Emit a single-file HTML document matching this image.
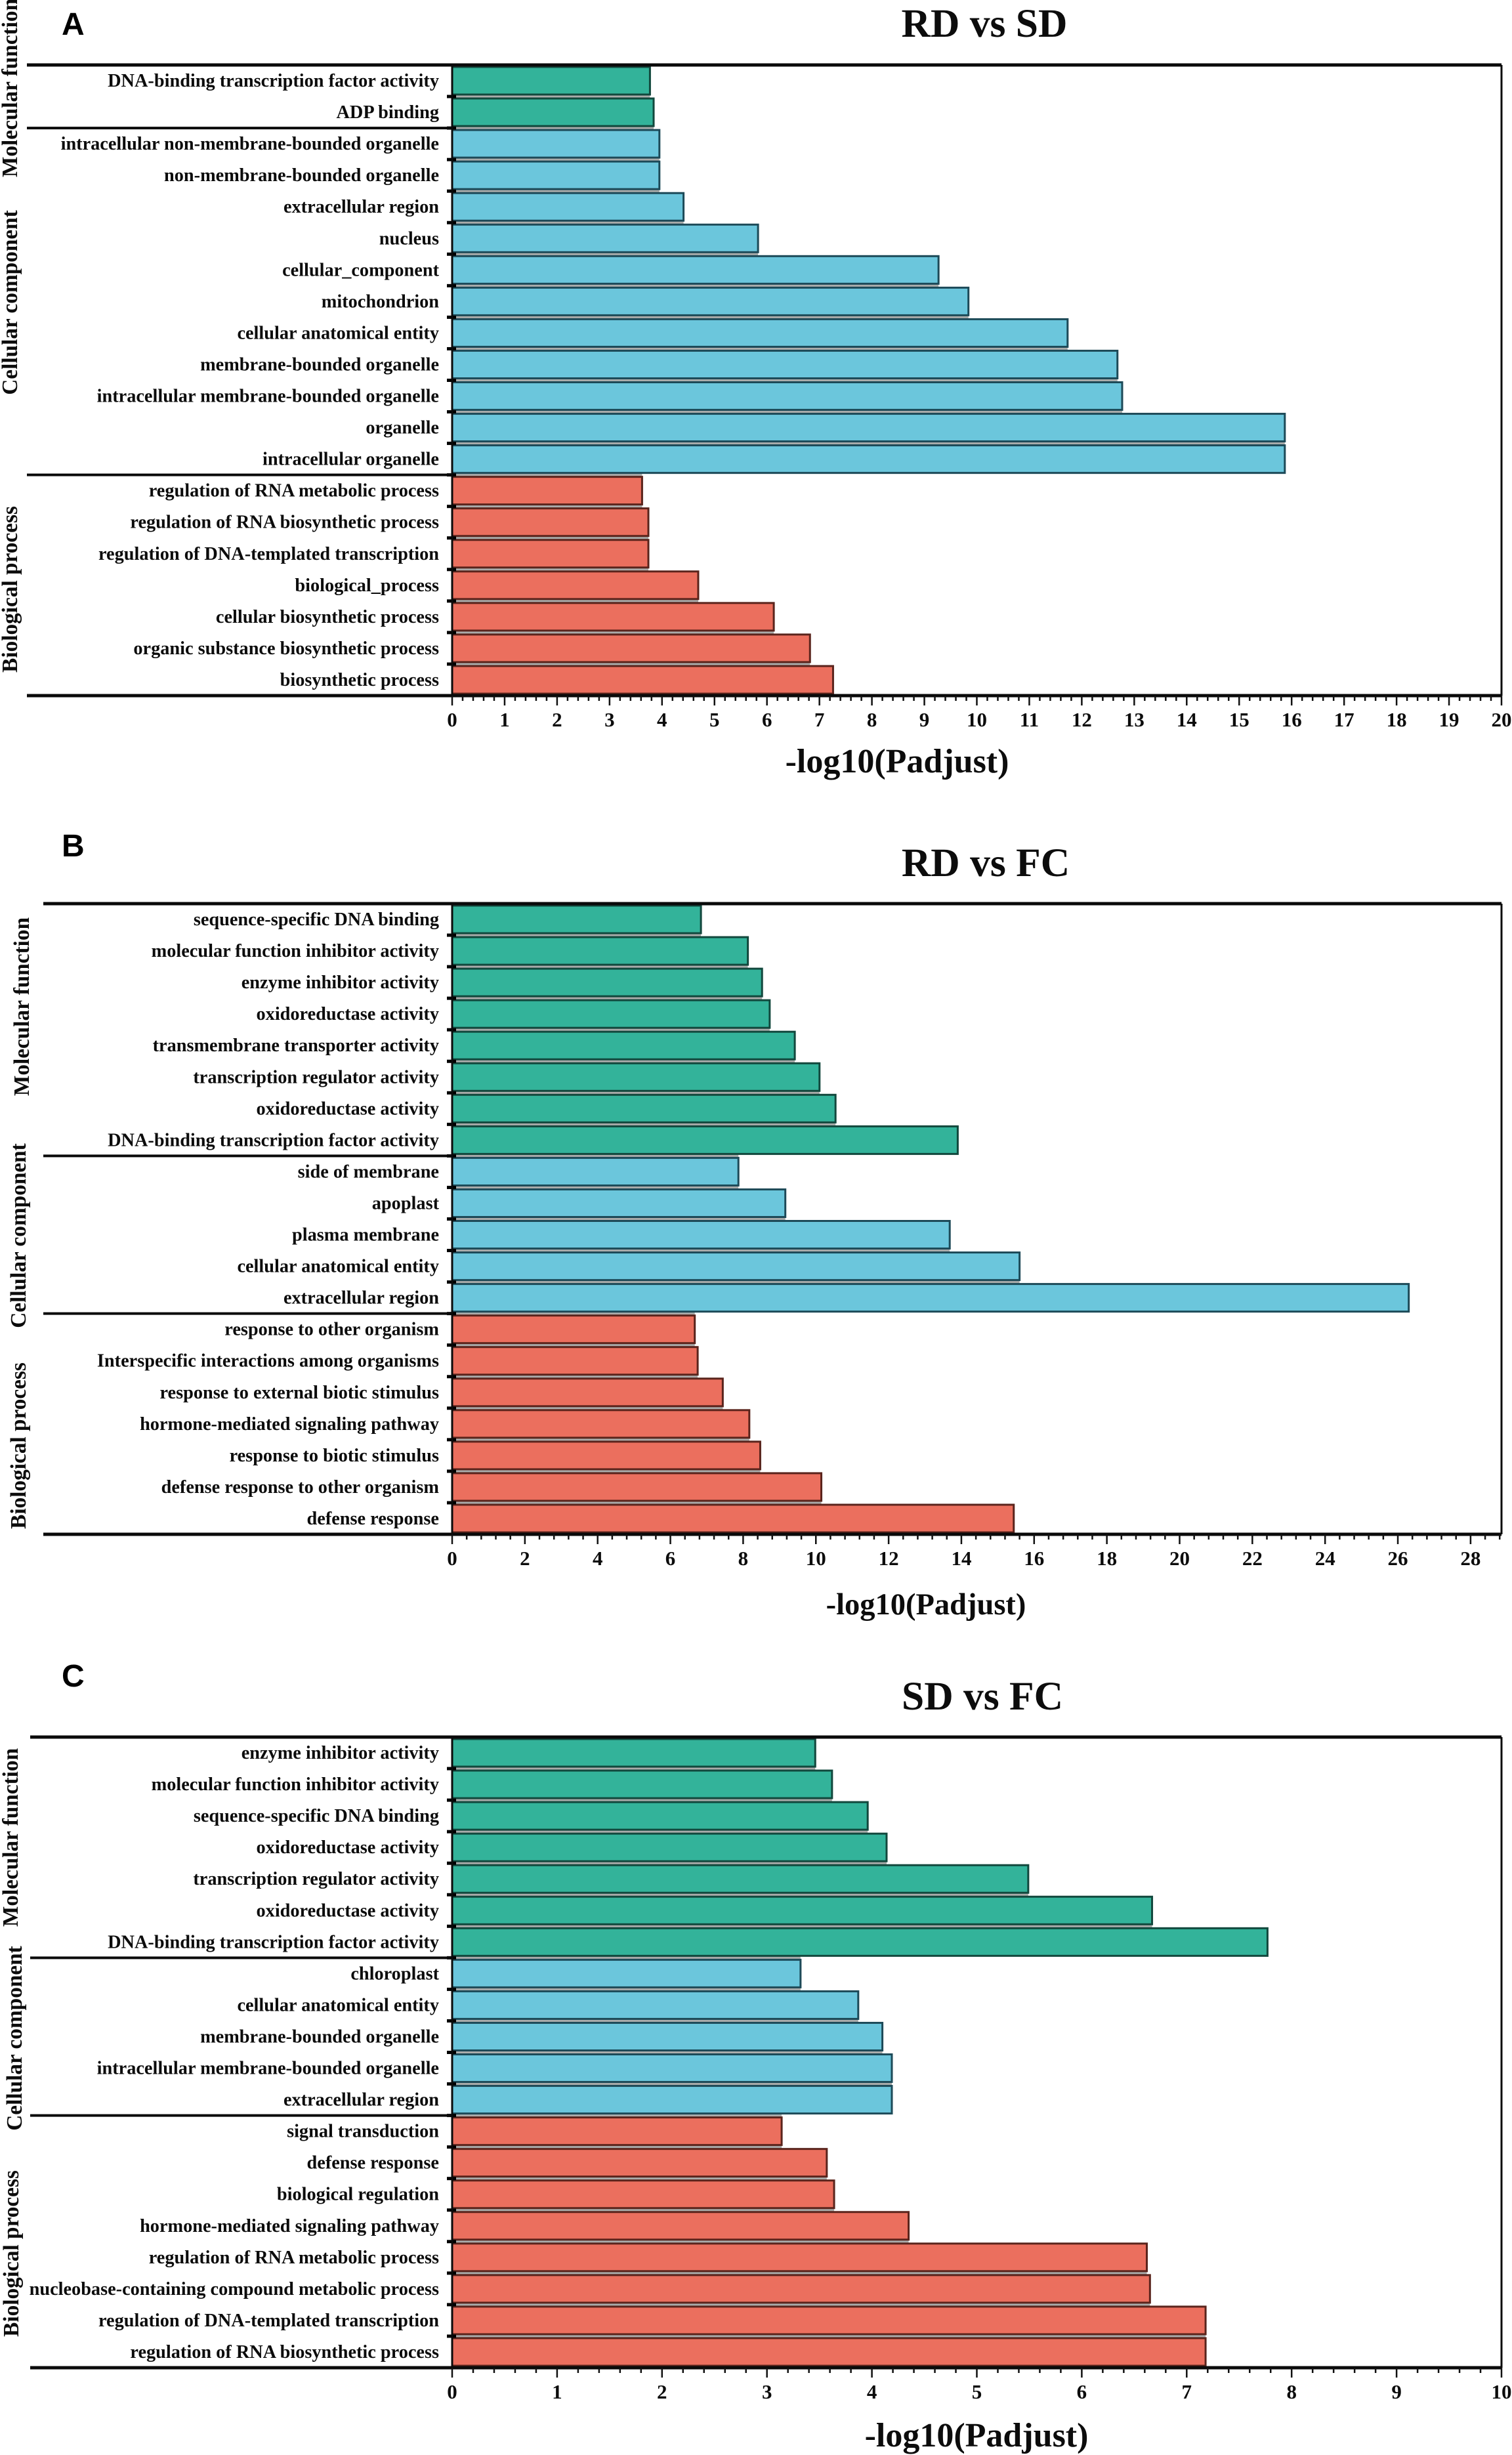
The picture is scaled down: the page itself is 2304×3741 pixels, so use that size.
<!DOCTYPE html>
<html lang="en">
<head>
<meta charset="utf-8">
<title>GO enrichment of RD, SD and FC comparisons</title>
<style>
html,body{margin:0;padding:0;background:#fff;}
svg{display:block;}
text{font-family:"Liberation Serif",serif;font-weight:bold;fill:#0c0c0c;}
.letter{font-family:"Liberation Sans",sans-serif;font-size:48px;fill:#000;}
</style>
</head>
<body>
<svg id="figure" xmlns="http://www.w3.org/2000/svg" width="2304" height="3741" viewBox="0 0 2304 3741"></svg>
<script>
// Panel A data
var panelACategories = ["DNA-binding transcription factor activity","ADP binding","intracellular non-membrane-bounded organelle","non-membrane-bounded organelle","extracellular region","nucleus","cellular_component","mitochondrion","cellular anatomical entity","membrane-bounded organelle","intracellular membrane-bounded organelle","organelle","intracellular organelle","regulation of RNA metabolic process","regulation of RNA biosynthetic process","regulation of DNA-templated transcription","biological_process","cellular biosynthetic process","organic substance biosynthetic process","biosynthetic process"];
var panelAValues = [3.77,3.84,3.95,3.95,4.41,5.83,9.27,9.84,11.73,12.68,12.77,15.87,15.87,3.62,3.74,3.74,4.69,6.13,6.82,7.26];
var panelAGroupCounts = [2,11,7];
var panelATicks = [0,1,2,3,4,5,6,7,8,9,10,11,12,13,14,15,16,17,18,19,20];

// Panel B data
var panelBCategories = ["sequence-specific DNA binding","molecular function inhibitor activity","enzyme inhibitor activity","oxidoreductase activity","transmembrane transporter activity","transcription regulator activity","oxidoreductase activity","DNA-binding transcription factor activity","side of membrane","apoplast","plasma membrane","cellular anatomical entity","extracellular region","response to other organism","Interspecific interactions among organisms","response to external biotic stimulus","hormone-mediated signaling pathway","response to biotic stimulus","defense response to other organism","defense response"];
var panelBValues = [6.84,8.13,8.52,8.73,9.42,10.1,10.54,13.9,7.87,9.16,13.68,15.6,26.3,6.67,6.75,7.44,8.17,8.47,10.15,15.44];
var panelBGroupCounts = [8,5,7];
var panelBTicks = [0,2,4,6,8,10,12,14,16,18,20,22,24,26,28];

// Panel C data
var panelCCategories = ["enzyme inhibitor activity","molecular function inhibitor activity","sequence-specific DNA binding","oxidoreductase activity","transcription regulator activity","oxidoreductase activity","DNA-binding transcription factor activity","chloroplast","cellular anatomical entity","membrane-bounded organelle","intracellular membrane-bounded organelle","extracellular region","signal transduction","defense response","biological regulation","hormone-mediated signaling pathway","regulation of RNA metabolic process","nucleobase-containing compound metabolic process","regulation of DNA-templated transcription","regulation of RNA biosynthetic process"];
var panelCValues = [3.46,3.62,3.96,4.14,5.49,6.67,7.77,3.32,3.87,4.10,4.19,4.19,3.14,3.57,3.64,4.35,6.62,6.65,7.18,7.18];
var panelCGroupCounts = [7,5,8];
var panelCTicks = [0,1,2,3,4,5,6,7,8,9,10];

var groupNames = ["Molecular function","Cellular component","Biological process"];

var NS = "http://www.w3.org/2000/svg";
var fig = document.getElementById("figure");
var FILLS = ["#33b39a","#6bc6dc","#eb6f5e"];
var STROKES = ["#12483d","#1d4a58","#5a241c"];
var X0 = 689, XR = 2288, ROW = 48.05;

function mk(tag, attrs, parent) {
  var el = document.createElementNS(NS, tag);
  for (var k in attrs) { el.setAttribute(k, attrs[k]); }
  (parent || fig).appendChild(el);
  return el;
}

function drawPanel(cfg) {
  var g = mk("g", {});
  
  

  var xScale = function (v) { return X0 + (v / cfg.xMax) * (XR - X0); };
  var yScale = function (i) { return cfg.top + i * ROW; };
  var bottom = yScale(cfg.values.length);

  var letter = mk("text", {x: cfg.letterX, y: cfg.letterY, "class": "letter"}, g);
  letter.textContent = cfg.letter;
  
  

  var title = mk("text", {x: cfg.titleX, y: cfg.titleY, "text-anchor": "middle", "font-size": 61.5}, g);
  title.textContent = cfg.title;
  
  

  // colour group of each row, from the group counts
  var rowGroup = [];
  cfg.counts.forEach(function (c, gi) {
    for (var n = 0; n < c; n++) { rowGroup.push(gi); }
  });

  // grey gaps between neighbouring bars
  for (var i = 1; i < cfg.values.length; i++) {
    var gap = mk("rect", {x: X0, y: yScale(i) - 3, width: xScale(Math.min(cfg.values[i - 1], cfg.values[i])) - X0, height: 6, fill: "#a9abaa"}, g);
    
    
  }

  // bars and row labels
  cfg.values.forEach(function (v, i) {
    var gi = rowGroup[i];
    var bar = mk("rect", {x: X0, y: yScale(i) + 3, width: xScale(v) - X0, height: ROW - 6, fill: FILLS[gi], stroke: STROKES[gi], "stroke-width": 3}, g);
    
    

    var label = mk("text", {x: 669, y: yScale(i) + ROW / 2 + 9, "text-anchor": "end", "font-size": 28.3}, g);
    label.textContent = cfg.categories[i];
    
    
  });

  // y-axis ticks at row boundaries
  for (var t = 1; t < cfg.values.length; t++) {
    var yt = mk("line", {x1: 681, x2: X0 + 6, y1: yScale(t), y2: yScale(t), stroke: "#000", "stroke-width": 5}, g);
    
    
  }

  // frame lines
  var frame = [
    [cfg.lineX, cfg.top, XR, cfg.top, 5, "top-rule"],
    [cfg.lineX, bottom, XR, bottom, 5, "x-axis-line"],
    [X0, cfg.top, X0, bottom, 3, "y-axis-line"],
    [XR, cfg.top, XR, bottom, 3, "right-border"]
  ];
  frame.forEach(function (f) {
    var ln = mk("line", {x1: f[0], y1: f[1], x2: f[2], y2: f[3], stroke: "#0a0a0a", "stroke-width": f[4]}, g);
    
    
  });

  // group separators and rotated group titles
  var acc = 0;
  cfg.counts.forEach(function (c, gi) {
    if (gi > 0) {
      var sep = mk("line", {x1: cfg.lineX, x2: X0, y1: yScale(acc), y2: yScale(acc), stroke: "#0a0a0a", "stroke-width": 4}, g);
      
      
    }
    acc += c;
    var gt = mk("text", {transform: "translate(" + cfg.groupX[gi] + "," + cfg.groupY[gi] + ") rotate(-90)", "text-anchor": "middle", "font-size": 33.3}, g);
    gt.textContent = groupNames[gi];
    
    
  });

  // x-axis ticks: major from tick array, four minors per interval
  var step = cfg.ticks[1] - cfg.ticks[0];
  var minor = step / 5;
  for (var m = 0; xScale(m * minor) <= XR + 0.5; m++) {
    var isMajor = m % 5 === 0;
    var xv = xScale(m * minor);
    var mt = mk("line", {x1: xv, x2: xv, y1: bottom, y2: bottom + (isMajor ? 15 : 8), stroke: "#111", "stroke-width": 2.5}, g);
    
    
  }
  cfg.ticks.forEach(function (tv) {
    var tl = mk("text", {x: xScale(tv), y: cfg.tickY, "text-anchor": "middle", "font-size": 31}, g);
    tl.textContent = tv;
    
    
  });

  var xt = mk("text", {x: cfg.xLabelX, y: cfg.xLabelY, "text-anchor": "middle", "font-size": cfg.xLabelSize}, g);
  xt.textContent = "-log10(Padjust)";
  
  
}

drawPanel({letter:"A", title:"RD vs SD", categories:panelACategories, values:panelAValues, counts:panelAGroupCounts, ticks:panelATicks,
  xMax:20, top:99, lineX:41, letterX:94, letterY:53, titleX:1500, titleY:56,
  groupX:[26,26,26], groupY:[134,461,898], tickY:1107, xLabelX:1367, xLabelY:1177, xLabelSize:52});
drawPanel({letter:"B", title:"RD vs FC", categories:panelBCategories, values:panelBValues, counts:panelBGroupCounts, ticks:panelBTicks,
  xMax:28.85, top:1377, lineX:66, letterX:94, letterY:1305, titleX:1502, titleY:1335,
  groupX:[44,39,39], groupY:[1534,1883,2203], tickY:2385, xLabelX:1411, xLabelY:2460, xLabelSize:46.5});
drawPanel({letter:"C", title:"SD vs FC", categories:panelCCategories, values:panelCValues, counts:panelCGroupCounts, ticks:panelCTicks,
  xMax:10, top:2647, lineX:46, letterX:94, letterY:2570, titleX:1497, titleY:2605,
  groupX:[27,33,28], groupY:[2800,3106,3434], tickY:3655, xLabelX:1488, xLabelY:3728, xLabelSize:52});
</script>
</body>
</html>
